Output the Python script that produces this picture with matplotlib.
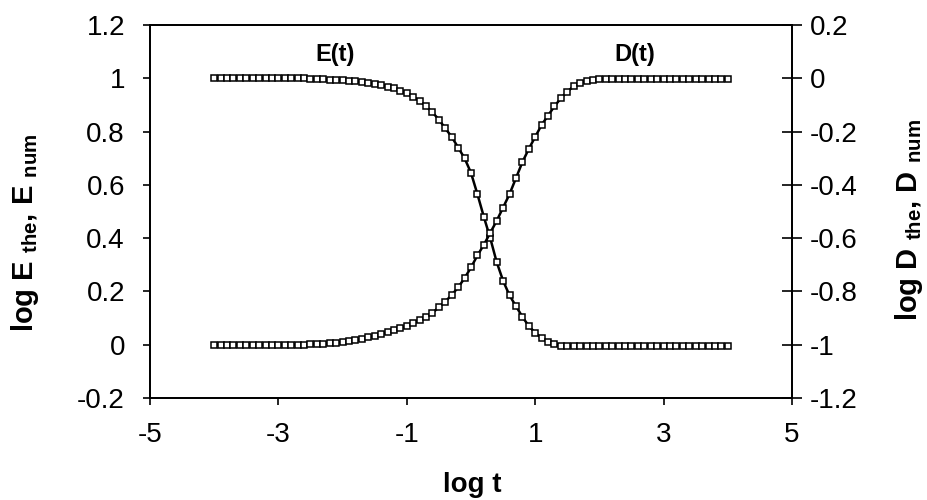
import matplotlib
matplotlib.use("Agg")
import matplotlib.pyplot as plt
import numpy as np

plt.rcParams['font.family'] = ['Liberation Sans', 'DejaVu Sans']
plt.rcParams['mathtext.fontset'] = 'custom'
plt.rcParams['mathtext.rm'] = 'Liberation Sans:bold'
plt.rcParams['mathtext.default'] = 'regular'

# log t values (step 0.1 from -4 to 4)
log_t = [round(-4.0 + 0.1 * i, 1) for i in range(81)]

# log E (left axis)
E_vals = [1.0] * 15 + [
    0.998, 0.997, 0.996, 0.995, 0.994, 0.993, 0.991, 0.989, 0.986, 0.983,   # -2.5 .. -1.6
    0.979, 0.975, 0.969, 0.962, 0.953, 0.943, 0.930, 0.915, 0.895, 0.872,   # -1.5 .. -0.6
    0.845, 0.812, 0.780, 0.740, 0.700, 0.645, 0.565, 0.480, 0.400, 0.310,   # -0.5 .. 0.4
    0.240, 0.185, 0.145, 0.105, 0.070, 0.045, 0.025, 0.012, 0.003, -0.003, # 0.5 .. 1.4
] + [-0.005] * 26

# log D (right axis)
D_vals = [-1.0] * 15 + [
    -0.998, -0.997, -0.996, -0.994, -0.992, -0.990, -0.987, -0.983, -0.978, -0.972,  # -2.5 .. -1.6
    -0.966, -0.960, -0.953, -0.946, -0.938, -0.929, -0.920, -0.908, -0.895, -0.880,  # -1.5 .. -0.6
    -0.860, -0.838, -0.813, -0.785, -0.750, -0.710, -0.665, -0.625, -0.580, -0.535,  # -0.5 .. 0.4
    -0.485, -0.435, -0.375, -0.315, -0.265, -0.220, -0.175, -0.140, -0.105, -0.075,  # 0.5 .. 1.4
    -0.050, -0.030, -0.018, -0.010, -0.005, -0.003,                                  # 1.5 .. 2.0
] + [-0.002] * 20

x_ticks = [-5, -3, -1, 1, 3, 5]
yl_ticks = [-0.2, 0, 0.2, 0.4, 0.6, 0.8, 1.0, 1.2]
yr_ticks = [-1.2, -1.0, -0.8, -0.6, -0.4, -0.2, 0, 0.2]

def fmt(v):
    s = ('%.1f' % v)
    if s.endswith('.0'):
        s = s[:-2]
    if s == '-0':
        s = '0'
    return s

fig = plt.figure(figsize=(9.28, 5.0), dpi=100)
ax = fig.add_axes([150/928, 1 - 398/500, (792-150)/928, (398-25)/500])
ax2 = ax.twinx()

mk = dict(marker='s', markersize=4, markerfacecolor='white', markeredgecolor='black',
          markeredgewidth=1.1, color='black', linewidth=1.8)
ax.plot(log_t, E_vals, **mk)
ax2.plot(log_t, D_vals, **mk)

ax.set_xlim(-5, 5)
ax.set_ylim(-0.2, 1.2)
ax2.set_ylim(-1.2, 0.2)

ax.set_xticks(x_ticks)
ax.set_xticklabels([fmt(v) for v in x_ticks])
ax.set_yticks(yl_ticks)
ax.set_yticklabels([fmt(v) for v in yl_ticks])
ax2.set_yticks(yr_ticks)
ax2.set_yticklabels([fmt(v) for v in yr_ticks])

ax.tick_params(axis='both', direction='out', length=5, width=1.2, labelsize=20, pad=12)
ax.tick_params(axis='y', pad=13)
ax2.tick_params(axis='y', direction='inout', length=14, width=1.2, labelsize=20, pad=6)

for a in (ax, ax2):
    for sp in a.spines.values():
        sp.set_linewidth(1.3)

ax.text(-2.12, 1.09, 'E(t)', fontsize=17, fontweight='bold', ha='center', va='center')
ax.text(2.55, 1.09, 'D(t)', fontsize=17, fontweight='bold', ha='center', va='center')

fig.text(472/928, 1 - 485/500, 'log t', fontsize=20, fontweight='bold', ha='center', va='center')
fig.text(25/928, 1 - 233/500, r'log E $_{\mathrm{the}}$, E $_{\mathrm{num}}$', fontsize=21,
         fontweight='bold', rotation=90, ha='center', va='center')
fig.text(909/928, 1 - 220/500, r'log D $_{\mathrm{the}}$, D $_{\mathrm{num}}$', fontsize=21,
         fontweight='bold', rotation=90, ha='center', va='center')

fig.savefig('out.png', dpi=100)
